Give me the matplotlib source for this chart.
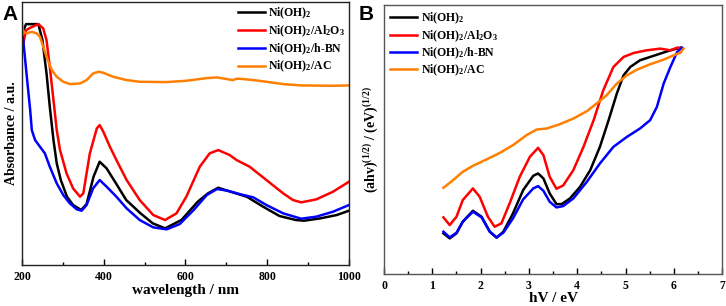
import numpy as np
import matplotlib
matplotlib.use("Agg")
import matplotlib.pyplot as plt
from matplotlib.ticker import MultipleLocator

plt.rcParams['font.family'] = 'Liberation Serif'
plt.rcParams['font.weight'] = 'bold'
plt.rcParams['mathtext.fontset'] = 'custom'
plt.rcParams['mathtext.rm'] = 'Liberation Serif:bold'
plt.rcParams['mathtext.it'] = 'Liberation Serif:bold'
plt.rcParams['mathtext.bf'] = 'Liberation Serif:bold'

labels = ['Ni(OH)$_2$', 'Ni(OH)$_2$/Al$_2$O$_3$', 'Ni(OH)$_2$/h-BN', 'Ni(OH)$_2$/AC']
colors = ['black', '#ff0000', '#0000ff', '#ff7f00']

# --- panel A: UV-vis absorbance (arbitrary units) ---
wl_black = [200, 210, 240, 250, 260, 268, 277, 285, 295, 310, 325, 345, 358, 375, 390, 407, 430, 455,
            490, 520, 550, 590, 630, 655, 680, 710, 750, 790, 830, 870, 890, 930, 970, 1000]
ab_black = [695, 723, 723, 675, 575, 475, 375, 305, 255, 205, 180, 165, 183, 265, 310, 290, 245, 195,
            155, 125, 110, 135, 190, 215, 232, 220, 205, 175, 147, 135, 133, 140, 150, 163]

wl_red = [200, 210, 225, 240, 252, 260, 268, 277, 285, 293, 309, 325, 342, 350, 366, 383, 390, 399, 415,
          431, 456, 488, 521, 550, 578, 602, 635, 659, 680, 708, 725, 757, 798, 839, 863, 883, 920, 961, 1000]
ab_red = [645, 705, 715, 723, 710, 675, 595, 495, 405, 345, 275, 230, 205, 215, 335, 410, 420, 400, 355,
          315, 255, 195, 150, 135, 155, 205, 295, 335, 345, 330, 315, 295, 255, 215, 195, 188, 197, 220, 250]

wl_blue = [200, 203, 211, 220, 224, 232, 244, 256, 268, 285, 301, 317, 334, 346, 358, 374, 390, 407, 431,
           456, 488, 521, 554, 586, 620, 652, 677, 703, 735, 766, 798, 839, 883, 920, 961, 1000]
ab_blue = [695, 675, 575, 465, 405, 375, 355, 335, 295, 245, 210, 185, 167, 163, 180, 230, 255, 235, 205,
           170, 135, 113, 107, 123, 165, 210, 228, 223, 212, 203, 180, 155, 139, 145, 160, 180]

wl_ac = [200, 203, 211, 224, 236, 244, 252, 260, 273, 285, 301, 317, 342, 358, 374, 387, 399, 423, 456,
         488, 554, 602, 652, 677, 716, 725, 733, 766, 798, 839, 883, 961, 1000]
ab_ac = [725, 700, 695, 700, 695, 685, 655, 625, 585, 565, 550, 543, 545, 555, 575, 580, 577, 565, 555,
         550, 549, 553, 561, 563, 555, 559, 559, 555, 550, 543, 539, 538, 539]

# --- panel B: Tauc plot ---
ev_black = [1.23, 1.36, 1.50, 1.63, 1.84, 2.02, 2.19, 2.33, 2.47, 2.67, 2.88, 3.09, 3.19, 3.30, 3.43, 3.57,
            3.68, 3.85, 4.06, 4.27, 4.47, 4.65, 4.82, 4.96, 5.10, 5.30, 5.51, 5.72, 5.93, 6.14]
tc_black = [122, 107, 122, 157, 190, 172, 127, 109, 127, 182, 252, 295, 302, 287, 242, 210,
            210, 227, 262, 312, 382, 462, 542, 597, 622, 642, 652, 662, 672, 680]

ev_red = [1.23, 1.36, 1.50, 1.63, 1.84, 1.98, 2.15, 2.29, 2.43, 2.60, 2.81, 3.02, 3.19, 3.30, 3.43, 3.57,
          3.71, 3.92, 4.13, 4.34, 4.54, 4.75, 4.96, 5.17, 5.44, 5.72, 5.93, 6.07, 6.19]
tc_red = [170, 147, 172, 222, 257, 232, 172, 142, 152, 212, 292, 352, 379, 357, 292, 256,
          266, 312, 382, 462, 552, 622, 652, 664, 672, 677, 672, 680, 677]

ev_blue = [1.23, 1.36, 1.50, 1.63, 1.84, 2.02, 2.19, 2.33, 2.47, 2.67, 2.88, 3.09, 3.19, 3.30, 3.43, 3.57,
           3.71, 3.92, 4.20, 4.47, 4.75, 5.03, 5.30, 5.51, 5.65, 5.79, 5.93, 6.07, 6.17]
tc_blue = [127, 110, 124, 157, 187, 170, 127, 110, 124, 167, 224, 257, 264, 250, 217, 200,
           204, 227, 277, 332, 382, 412, 437, 462, 502, 572, 622, 667, 680]

ev_ac = [1.23, 1.43, 1.63, 1.84, 2.12, 2.40, 2.67, 2.95, 3.16, 3.37, 3.64, 3.92, 4.20, 4.40, 4.61, 4.82,
         5.03, 5.24, 5.51, 5.79, 6.00, 6.14, 6.20]
tc_ac = [259, 282, 307, 325, 344, 364, 387, 417, 434, 437, 450, 467, 489, 512, 537, 572,
         597, 614, 630, 644, 657, 665, 677]

fig = plt.figure(figsize=(7.26, 3.06), dpi=100)
axA = fig.add_axes([0.0303, 0.134, 0.4504, 0.859])
axB = fig.add_axes([0.529, 0.1046, 0.4656, 0.879])

for x, y, c, lab in zip([wl_black, wl_red, wl_blue, wl_ac], [ab_black, ab_red, ab_blue, ab_ac], colors, labels):
    axA.plot(x, y, color=c, lw=1.8, label=lab)
for x, y, c, lab in zip([ev_black, ev_red, ev_blue, ev_ac], [tc_black, tc_red, tc_blue, tc_ac], colors, labels):
    axB.plot(x, y, color=c, lw=1.8, label=lab)

axA.set_xlim(200, 1000)
axA.set_ylim(0, 789)
axA.xaxis.set_major_locator(MultipleLocator(200))
axA.xaxis.set_minor_locator(MultipleLocator(100))
axA.set_yticks([])
axA.set_xlabel('wavelength / nm', fontsize=11, fontweight='bold', labelpad=1)
axA.set_ylabel('Absorbance / a.u.', fontsize=10, fontweight='bold', labelpad=3)

axB.set_xlim(0, 7)
axB.set_ylim(0, 808)
axB.xaxis.set_major_locator(MultipleLocator(1))
axB.xaxis.set_minor_locator(MultipleLocator(0.5))
axB.set_yticks([])
axB.set_xlabel('hV / eV', fontsize=11, fontweight='bold', labelpad=0)
axB.set_ylabel('$($ahv$)^{(1/2)}$ / (eV)$^{(1/2)}$', fontsize=10, fontweight='bold', labelpad=3)

for ax, ec in [(axA, '#222222'), (axB, '#555555')]:
    for s in ax.spines.values():
        s.set_color(ec)
        s.set_linewidth(1.0)
    ax.tick_params(axis='x', which='major', direction='in', length=4, width=1, labelsize=8.5, pad=4)
    ax.tick_params(axis='x', which='minor', direction='in', length=2.5, width=1)
    for t in ax.get_xticklabels():
        t.set_fontweight('bold')

axA.legend(loc='upper right', frameon=False, fontsize=8.5, handlelength=2.3,
           labelspacing=0.2, handletextpad=0.3, borderaxespad=0.1, borderpad=0.2)
axB.legend(loc='upper left', frameon=False, fontsize=8.5, handlelength=2.3,
           labelspacing=0.15, handletextpad=0.3, borderaxespad=0.1, borderpad=0.4)

fig.text(0.004, 0.985, 'A', fontsize=15, fontweight='bold', family='Liberation Sans', va='top', ha='left')
fig.text(0.494, 0.985, 'B', fontsize=15, fontweight='bold', family='Liberation Sans', va='top', ha='left')

fig.savefig('out.png', dpi=100)
